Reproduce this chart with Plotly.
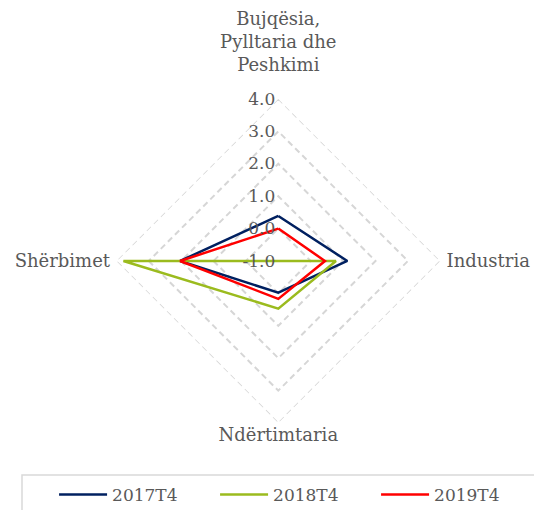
import plotly.graph_objects as go

categories = ["Bujqësia,<br>Pylltaria dhe<br>Peshkimi", "Industria", "Ndërtimtaria", "Shërbimet"]
series_names = ["2017T4", "2018T4", "2019T4"]
v2017 = [0.39, 1.13, -0.02, 2.03]
v2018 = [-1.0, 0.78, 0.47, 3.78]
v2019 = [0.0, 0.44, 0.17, 2.03]
colors = ["#002060", "#9BBB1E", "#FF0000"]
tick_vals = [-1, 0, 1, 2, 3, 4]
tick_text = ["-1.0", "0.0", "1.0", "2.0", "3.0", "4.0"]

grid_color = "#D6D6D6"
grid_dash = "6px,4px"
nb = "\u00a0"

# label padding (standoff from the frame) applied to the category labels
angular_ticktext = [
    categories[0] + "<br>" + nb,
    nb + categories[1],
    categories[2],
    categories[3] + nb,
]

fig = go.Figure()
outer = tick_vals[-1]
fig.add_trace(go.Scatterpolar(
    r=[outer] * (len(categories) + 1),
    theta=categories + [categories[0]],
    mode="lines",
    line=dict(color=grid_color, width=1.5, dash=grid_dash),
    showlegend=False,
    hoverinfo="skip",
    cliponaxis=False,
))
for name, vals, col in zip(series_names, [v2017, v2018, v2019], colors):
    fig.add_trace(go.Scatterpolar(
        r=vals + [vals[0]],
        theta=categories + [categories[0]],
        mode="lines",
        name=name,
        line=dict(color=col, width=2.5),
        cliponaxis=False,
    ))

font_family = "DejaVu Serif"
fig.add_shape(
    type="rect", xref="paper", yref="paper",
    x0=14 / 542, x1=1.05, y0=-0.05, y1=1 - 467 / 510,
    line=dict(color="#D9D9D9", width=1.5), fillcolor="rgba(0,0,0,0)",
    layer="below",
)
fig.update_layout(
    width=542, height=510,
    margin=dict(l=0, r=0, t=0, b=0),
    paper_bgcolor="white",
    font=dict(family=font_family, size=18, color="#595959"),
    polar=dict(
        domain=dict(x=[0.1998, 0.7976], y=[0.1863, 0.8216]),
        gridshape="linear",
        bgcolor="white",
        radialaxis=dict(
            range=[-1, 4],
            tickvals=tick_vals,
            ticktext=tick_text,
            ticksuffix=nb * 3,
            angle=90,
            tickangle=90,
            side="counterclockwise",
            showline=False,
            ticks="",
            gridcolor=grid_color,
            griddash=grid_dash,
            gridwidth=1.5,
            tickfont=dict(size=17, color="#595959", family=font_family),
        ),
        angularaxis=dict(
            rotation=90,
            direction="clockwise",
            showgrid=False,
            showline=False,
            ticks="",
            tickmode="array",
            tickvals=categories,
            ticktext=angular_ticktext,
            tickfont=dict(size=18, color="#595959", family=font_family),
        ),
    ),
    legend=dict(
        orientation="h",
        x=0.085, y=1 - 469 / 510, xanchor="left", yanchor="top",
        borderwidth=0, bgcolor="rgba(0,0,0,0)",
        font=dict(size=17, color="#595959", family=font_family),
        itemwidth=48,
        entrywidth=98,
    ),
)

fig.write_html("out.html")
